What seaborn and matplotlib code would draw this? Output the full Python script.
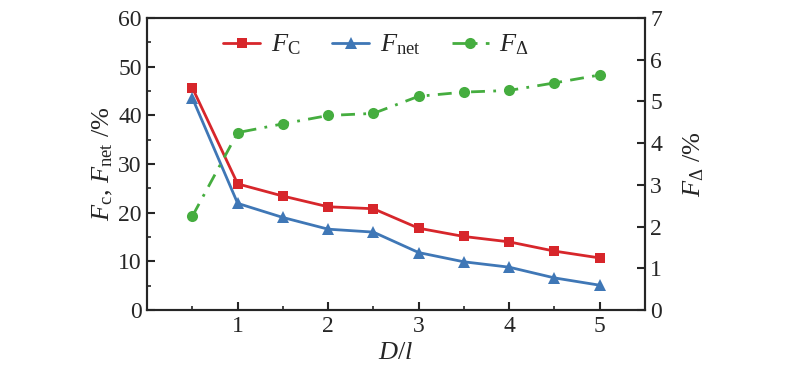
import matplotlib
matplotlib.use("Agg")
import matplotlib.pyplot as plt
import seaborn as sns
import pandas as pd
from matplotlib.ticker import MultipleLocator

# values
d_over_l = [0.5, 1.0, 1.5, 2.0, 2.5, 3.0, 3.5, 4.0, 4.5, 5.0]
f_c = [45.6, 25.9, 23.4, 21.2, 20.8, 16.8, 15.1, 14.0, 12.1, 10.7]
f_net = [43.5, 21.9, 19.0, 16.6, 16.0, 11.8, 9.9, 8.8, 6.6, 5.1]
f_delta = [2.25, 4.25, 4.46, 4.66, 4.71, 5.12, 5.22, 5.26, 5.44, 5.63]
x_ticks = [1, 2, 3, 4, 5]

df = pd.DataFrame({"D/l": d_over_l, "Fc": f_c, "Fnet": f_net, "Fdelta": f_delta})

sns.set_theme(style="ticks")
plt.rcParams["font.family"] = ["Liberation Serif", "DejaVu Serif"]
plt.rcParams["mathtext.fontset"] = "custom"
plt.rcParams["mathtext.rm"] = "Liberation Serif"
plt.rcParams["mathtext.it"] = "Liberation Serif:italic"
plt.rcParams["mathtext.bf"] = "Liberation Serif:bold"

red = "#d7262b"
blue = "#3f77b6"
green = "#45ad3f"

fig, ax = plt.subplots(figsize=(8, 3.79), dpi=100)
fig.subplots_adjust(left=0.184, right=0.806, top=0.953, bottom=0.182)
ax2 = ax.twinx()

sns.lineplot(data=df, x="D/l", y="Fc", ax=ax, color=red, marker="s", markersize=7,
             markeredgewidth=0, linewidth=2, label=r"$F_\mathrm{C}$")
sns.lineplot(data=df, x="D/l", y="Fnet", ax=ax, color=blue, marker="^", markersize=8,
             markeredgewidth=0, linewidth=2, label=r"$F_\mathrm{net}$")
sns.lineplot(data=df, x="D/l", y="Fdelta", ax=ax2, color=green, marker="o", markersize=8,
             markeredgewidth=0, linewidth=2, linestyle=(0, (5, 3, 1, 3)),
             label=r"$F_\Delta$")

ax.set_xlim(0, 5.5)
ax.set_ylim(0, 60)
ax2.set_ylim(0, 7)
ax.set_xticks(x_ticks)
ax.xaxis.set_minor_locator(MultipleLocator(0.5))
ax.yaxis.set_major_locator(MultipleLocator(10))
ax.yaxis.set_minor_locator(MultipleLocator(5))
ax2.yaxis.set_major_locator(MultipleLocator(1))

for a in (ax, ax2):
    a.tick_params(which="major", direction="in", length=6, width=1.5, labelsize=17, pad=4)
    a.tick_params(which="minor", direction="in", length=3, width=1.2)
    for s in a.spines.values():
        s.set_linewidth(1.5)
        s.set_visible(True)
ax.tick_params(axis="x", which="both", top=False)
ax2.tick_params(axis="y", which="minor", right=False)

ax.set_xlabel(r"$D/l$", fontsize=19, labelpad=4)
ax.set_ylabel(r"$F_\mathrm{c}$, $F_\mathrm{net}$ /%", fontsize=19, labelpad=2)
ax2.set_ylabel(r"$F_\Delta$ /%", fontsize=19, labelpad=14)

h1, l1 = ax.get_legend_handles_labels()
h2, l2 = ax2.get_legend_handles_labels()
if ax2.get_legend():
    ax2.get_legend().remove()
ax.get_legend().remove()
ax.legend(h1 + h2, l1 + l2, loc="upper center", bbox_to_anchor=(0.46, 1.03), ncol=3,
          frameon=False, fontsize=19, handlelength=1.4, columnspacing=1.2, handletextpad=0.4)

plt.savefig("out.png", dpi=100)
plt.close()
